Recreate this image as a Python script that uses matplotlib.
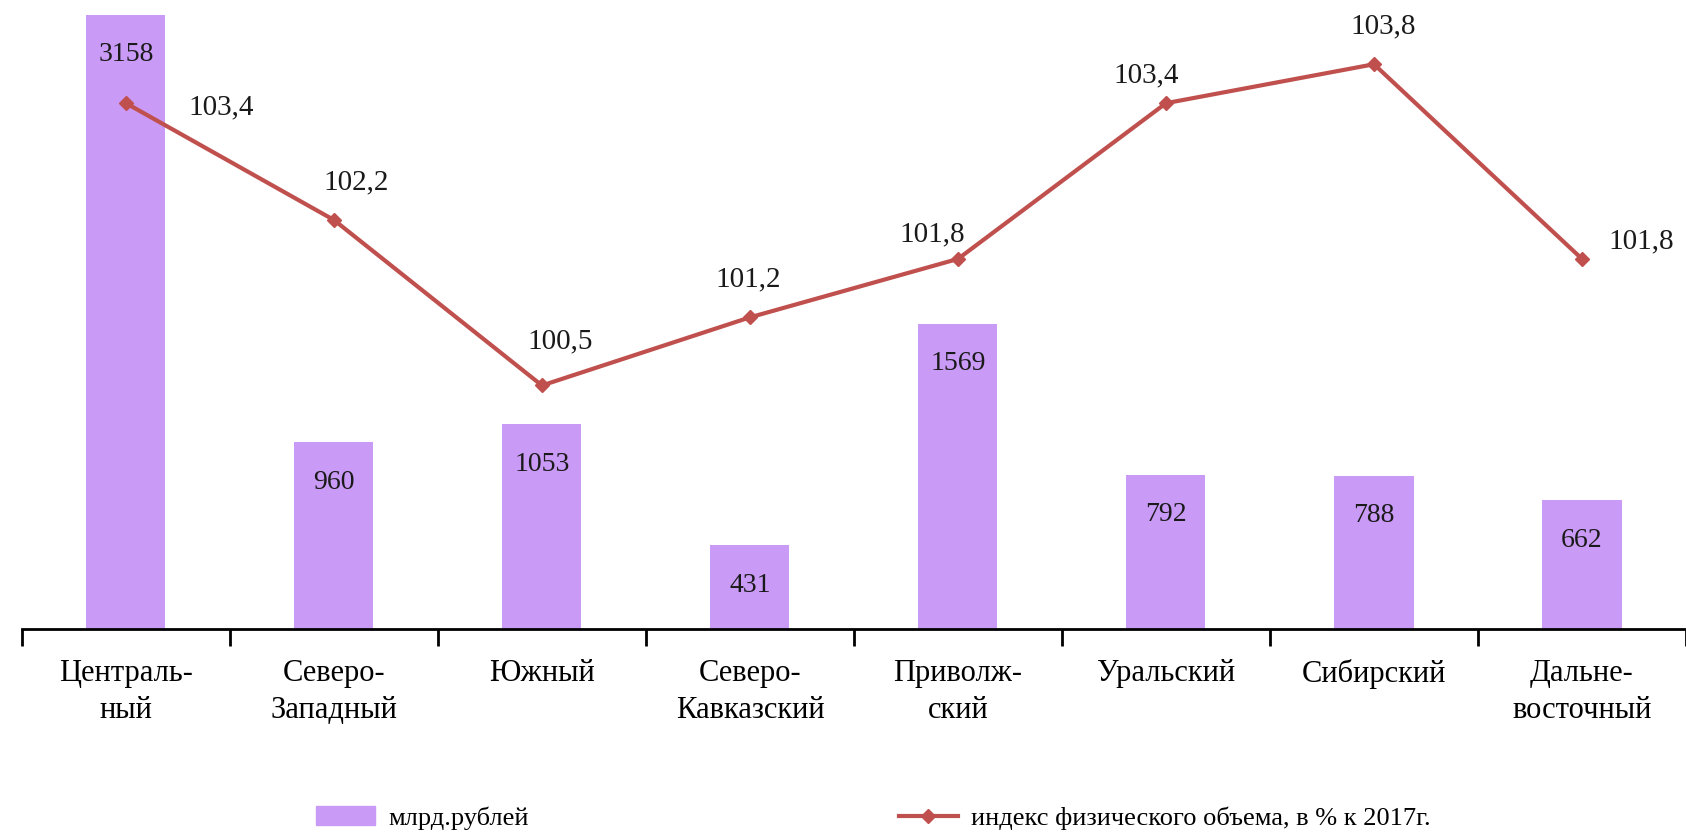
import matplotlib.pyplot as plt
from matplotlib.lines import Line2D
from matplotlib.patches import Patch

plt.rcParams['font.family'] = ['Liberation Serif', 'DejaVu Serif']

# Data
regions = ['Централь-\nный', 'Северо-\nЗападный', 'Южный', 'Северо-\nКавказский',
           'Приволж-\nский', 'Уральский', 'Сибирский', 'Дальне-\nвосточный']
volume = [3158, 960, 1053, 431, 1569, 792, 788, 662]
index_pct = [103.4, 102.2, 100.5, 101.2, 101.8, 103.4, 103.8, 101.8]
index_labels = ['103,4', '102,2', '100,5', '101,2', '101,8', '103,4', '103,8', '101,8']
# label offsets (pixels) relative to line points
label_offsets = [(95, -4), (22, 38), (18, 44), (-2, 38), (-26, 25), (-20, 28), (9, 38), (59, 18)]

bar_color = '#C99AF6'
line_color = '#C0504D'

fig = plt.figure(figsize=(16.86, 8.34), dpi=100)
ax = fig.add_axes([0.013, 0.246, 0.987, 0.754])
x = list(range(len(regions)))

ax.bar(x, volume, width=0.38, color=bar_color, zorder=1)
ax.set_xlim(-0.5, 7.5)
ax.set_ylim(0, 3235)
for xi, v in zip(x, volume):
    ax.annotate(str(v), (xi, v), xytext=(0, -40), textcoords='offset pixels',
                ha='center', va='center', fontsize=20, color='#1a1a1a')

for s in ['top', 'right', 'left']:
    ax.spines[s].set_visible(False)
ax.spines['bottom'].set_linewidth(2)
ax.set_yticks([])
ax.set_xticks(x)
ax.set_xticklabels(regions, fontsize=22, linespacing=1.35)
ax.tick_params(axis='x', which='major', length=0, pad=22)
ax.set_xticks([i - 0.5 for i in range(len(regions) + 1)], minor=True)
ax.tick_params(axis='x', which='minor', length=12, width=2, direction='out')

ax2 = ax.twinx()
ax2.plot(x, index_pct, color=line_color, linewidth=3, marker='D', markersize=7, zorder=3)
ax2.set_ylim(98.0, 104.46)
ax2.set_yticks([])
for s in ['top', 'right', 'left', 'bottom']:
    ax2.spines[s].set_visible(False)
for xi, v, lab, off in zip(x, index_pct, index_labels, label_offsets):
    ax2.annotate(lab, (xi, v), xytext=off, textcoords='offset pixels',
                 ha='center', va='center', fontsize=21, color='#1a1a1a')

handles = [Patch(color=bar_color),
           Line2D([], [], color=line_color, linewidth=3, marker='D', markersize=7)]
fig.legend(handles, ['млрд.рублей', 'индекс физического объема, в % к 2017г.'],
           loc='center', bbox_to_anchor=(0.518, 0.019), ncol=2, frameon=False,
           fontsize=19, handlelength=2.25, handletextpad=0.5, columnspacing=14)

fig.savefig('out.png', dpi=100)
